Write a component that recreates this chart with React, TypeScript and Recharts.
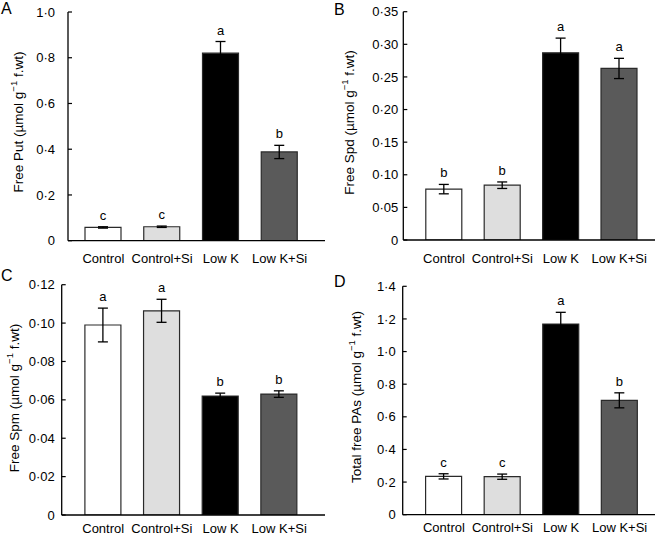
import React from "react";
import { BarChart, Bar, XAxis, YAxis, ErrorBar, Cell, LabelList } from "recharts";

const categories = ["Control", "Control+Si", "Low K", "Low K+Si"];

const putMean = [0.058, 0.061, 0.82, 0.388];
const putErr = [0.003, 0.003, 0.051, 0.029];
const putSig = ["c", "c", "a", "b"];
const putTicks = [0, 0.2, 0.4, 0.6, 0.8, 1.0];

const spdMean = [0.078, 0.084, 0.287, 0.263];
const spdErr = [0.0072, 0.005, 0.0225, 0.0155];
const spdSig = ["b", "b", "a", "a"];
const spdTicks = [0, 0.05, 0.1, 0.15, 0.2, 0.25, 0.3, 0.35];

const spmMean = [0.099, 0.1064, 0.062, 0.063];
const spmErr = [0.0088, 0.006, 0.0015, 0.0017];
const spmSig = ["a", "a", "b", "b"];
const spmTicks = [0, 0.02, 0.04, 0.06, 0.08, 0.1, 0.12];

const totMean = [0.235, 0.233, 1.169, 0.701];
const totErr = [0.016, 0.016, 0.0715, 0.046];
const totSig = ["c", "c", "a", "b"];
const totTicks = [0, 0.2, 0.4, 0.6, 0.8, 1.0, 1.2, 1.4];

const fills = ["#ffffff", "#dedede", "#000000", "#5a5a5a"];
const FONT = '"Liberation Sans", Arial, Helvetica, sans-serif';

const fmt = (v: number, d: number) => (v === 0 ? "0" : v.toFixed(d).replace(".", "\u00b7"));

type PanelProps = {
  letter: string;
  labelMain: string;
  left: number;
  top: number;
  plotLeft: number;
  plotTop: number;
  plotBottom: number;
  padL: number;
  padR: number;
  ticks: number[];
  decimals: number;
  tickGap: number;
  mean: number[];
  err: number[];
  sig: string[];
  labelX: number;
  labelY: number;
  letterX: number;
  letterY: number;
  xLabelDy: number;
};

const Panel = (p: PanelProps) => {
  const W = 330;
  const H = 268;
  const data = categories.map((c, i) => ({ name: c, v: p.mean[i], err: p.err[i], sig: p.sig[i] }));
  const yTick = (props: any) => {
    const { x, y, payload } = props;
    return (
      <g>
        <line x1={x} x2={x + 4} y1={y} y2={y} stroke="#000" strokeWidth={1.2} />
        <text x={x - p.tickGap} y={y} dy={4.6} textAnchor="end" fontSize={13} fontFamily={FONT} fill="#000">
          {fmt(payload.value, p.decimals)}
        </text>
      </g>
    );
  };
  const xTick = (props: any) => {
    const { x, y, payload } = props;
    return (
      <text x={x} y={y + p.xLabelDy} textAnchor="middle" fontSize={13} fontFamily={FONT} fill="#000">
        {payload.value}
      </text>
    );
  };
  const sigLabel = (props: any) => {
    const vb = props.viewBox || {};
    const x = props.x ?? vb.x;
    const y = props.y ?? vb.y;
    const width = props.width ?? vb.width;
    const height = props.height ?? vb.height;
    const i = props.index;
    const ppu = height / p.mean[i];
    const errTop = y - p.err[i] * ppu;
    return (
      <text x={x + width / 2} y={errTop - 7} textAnchor="middle" fontSize={13} fontFamily={FONT} fill="#000">
        {p.sig[i]}
      </text>
    );
  };
  const yLabel = () => (
    <text
      x={p.labelX}
      y={p.labelY}
      transform={`rotate(-90 ${p.labelX} ${p.labelY})`}
      textAnchor="middle"
      dominantBaseline="central"
      fontSize={13.5}
      fontFamily={FONT}
      fill="#000"
    >
      {p.labelMain} (µmol g
      <tspan dy={-5} fontSize={9.5}>
        −1
      </tspan>
      <tspan dy={5}> f.wt)</tspan>
    </text>
  );
  return (
    <div style={{ position: "absolute", left: p.left, top: p.top, width: W, height: H }}>
      <BarChart
        width={W}
        height={H}
        data={data}
        margin={{ top: p.plotTop, right: W - 325, left: 0, bottom: 0 }}
      >
        <XAxis
          dataKey="name"
          height={H - p.plotBottom}
          padding={{ left: p.padL, right: p.padR }}
          tickLine={false}
          tickSize={0}
          tickMargin={0}
          axisLine={{ stroke: "#000", strokeWidth: 1.3 }}
          tick={xTick}
          interval={0}
        />
        <YAxis
          width={p.plotLeft}
          domain={[0, p.ticks[p.ticks.length - 1]]}
          ticks={p.ticks}
          tickLine={false}
          tickSize={0}
          tickMargin={0}
          axisLine={{ stroke: "#000", strokeWidth: 1.3 }}
          tick={yTick}
          interval={0}
          allowDataOverflow
          label={{ content: yLabel }}
        />
        <Bar dataKey="v" barSize={36} stroke="#2a2a2a" strokeWidth={1.2} isAnimationActive={false}>
          {data.map((d, i) => (
            <Cell key={d.name} fill={fills[i]} />
          ))}
          <ErrorBar dataKey="err" width={5} stroke="#000" strokeWidth={1.3} direction="y" isAnimationActive={false} />
          <LabelList dataKey="sig" content={sigLabel} />
        </Bar>
      </BarChart>
      <div
        style={{
          position: "absolute",
          left: p.letterX,
          top: p.letterY,
          fontFamily: FONT,
          fontSize: 16,
          lineHeight: "16px",
          color: "#000",
        }}
      >
        {p.letter}
      </div>
    </div>
  );
};

export default function App() {
  return (
    <div style={{ position: "absolute", left: 0, top: 0, width: 661, height: 536, background: "#fff" }}>
      <Panel
        letter="A"
        labelMain="Free Put"
        left={0}
        top={0}
        plotLeft={68}
        plotTop={12}
        plotBottom={240.7}
        padL={6}
        padR={16}
        ticks={putTicks}
        decimals={1}
        tickGap={13}
        mean={putMean}
        err={putErr}
        sig={putSig}
        labelX={18}
        labelY={122}
        letterX={1}
        letterY={1}
        xLabelDy={22.6}
      />
      <Panel
        letter="B"
        labelMain="Free Spd"
        left={330}
        top={0}
        plotLeft={73.3}
        plotTop={11.7}
        plotBottom={240}
        padL={11.5}
        padR={6.6}
        ticks={spdTicks}
        decimals={2}
        tickGap={5}
        mean={spdMean}
        err={spdErr}
        sig={spdSig}
        labelX={19}
        labelY={122.5}
        letterX={4}
        letterY={2}
        xLabelDy={22.6}
      />
      <Panel
        letter="C"
        labelMain="Free Spm"
        left={0}
        top={268}
        plotLeft={61.7}
        plotTop={16.7}
        plotBottom={247}
        padL={12.2}
        padR={16.5}
        ticks={spmTicks}
        decimals={2}
        tickGap={7}
        mean={spmMean}
        err={spmErr}
        sig={spmSig}
        labelX={14}
        labelY={130}
        letterX={1}
        letterY={0}
        xLabelDy={17.5}
      />
      <Panel
        letter="D"
        labelMain="Total free PAs"
        left={330}
        top={268}
        plotLeft={72.7}
        plotTop={18.3}
        plotBottom={246.7}
        padL={11.9}
        padR={6.1}
        ticks={totTicks}
        decimals={1}
        tickGap={7}
        mean={totMean}
        err={totErr}
        sig={totSig}
        labelX={26}
        labelY={129}
        letterX={4}
        letterY={6}
        xLabelDy={17.5}
      />
    </div>
  );
}
